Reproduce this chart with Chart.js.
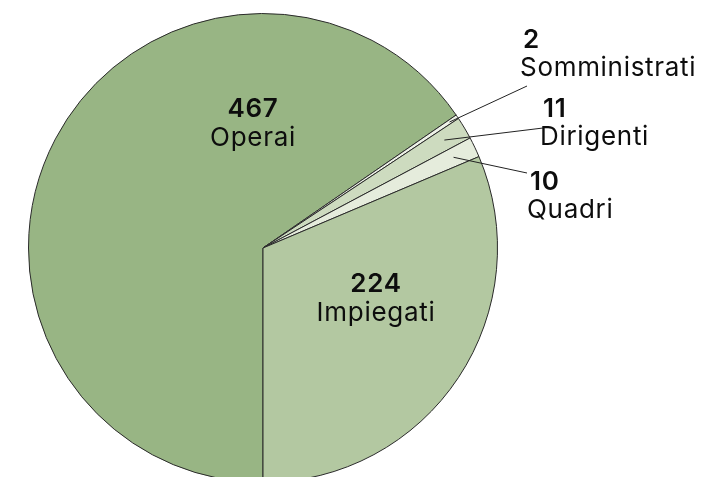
<!DOCTYPE html>
<html>
<head>
<meta charset="utf-8">
<script src="https://cdn.jsdelivr.net/npm/chart.js@4/dist/chart.umd.min.js"></script>
<style>
html,body{margin:0;padding:0;background:#fff;overflow:hidden;width:719px;height:477px;}
#wrap{width:719px;height:496px;}
</style>
</head>
<body>
<div id="wrap"><canvas id="c" width="719" height="496"></canvas></div>
<script>
const categories = ["Operai", "Somministrati", "Dirigenti", "Quadri", "Impiegati"];
const values = [467, 2, 11, 10, 224];
const sliceColors = ["#98b584", "#eef2e8", "#cddbbf", "#e5ecdc", "#b3c8a1"];

// label layout (style): inside labels or outside labels with leader lines
const labelLayout = [
  {mode: "inside", x: -10, y: -131},
  {mode: "outside", x: 260, y: -200, lx: 264, ly: -162, r: 0.96},
  {mode: "outside", x: 280, y: -131, lx: 280, ly: -120, r: 0.9},
  {mode: "outside", x: 267, y: -58, lx: 264, ly: -75, r: 0.9},
  {mode: "inside", x: 113, y: 44}
];

const labelPlugin = {
  id: "sliceLabels",
  afterDatasetsDraw(chart) {
    const ctx = chart.ctx;
    const meta = chart.getDatasetMeta(0);
    const ds = chart.data.datasets[0];
    meta.data.forEach((arc, i) => {
      const L = labelLayout[i];
      const cx = arc.x, cy = arc.y;
      ctx.save();
      ctx.fillStyle = "#0d0d0d";
      ctx.textBaseline = "alphabetic";
      ctx.letterSpacing = "0.7px";
      if (L.mode === "inside") {
        ctx.textAlign = "center";
        ctx.font = "600 26px Inter";
        ctx.fillText(String(ds.data[i]), cx + L.x, cy + L.y);
        ctx.font = "400 26px Inter";
        ctx.fillText(chart.data.labels[i], cx + L.x, cy + L.y + 29);
      } else {
        const mid = (arc.startAngle + arc.endAngle) / 2;
        const sx = cx + Math.cos(mid) * arc.outerRadius * L.r;
        const sy = cy + Math.sin(mid) * arc.outerRadius * L.r;
        ctx.strokeStyle = "#222";
        ctx.lineWidth = 1;
        ctx.beginPath();
        ctx.moveTo(sx, sy);
        ctx.lineTo(cx + L.lx, cy + L.ly);
        ctx.stroke();
        ctx.textAlign = "left";
        ctx.font = "600 26px Inter";
        ctx.fillText(String(ds.data[i]), cx + L.x, cy + L.y);
        ctx.font = "400 26px Inter";
        ctx.fillText(chart.data.labels[i], cx + L.x - 3, cy + L.y + 28);
      }
      ctx.restore();
    });
  }
};

new Chart(document.getElementById("c"), {
  type: "pie",
  data: {
    labels: categories,
    datasets: [{
      data: values,
      backgroundColor: sliceColors,
      borderColor: "#2a2a2a",
      borderWidth: 1,
      borderAlign: "center"
    }]
  },
  options: {
    responsive: false,
    animation: false,
    rotation: 180,
    layout: {padding: {left: 28, top: 13, right: 221, bottom: 13}},
    plugins: {legend: {display: false}, tooltip: {enabled: false}}
  },
  plugins: [labelPlugin]
});
</script>
</body>
</html>
